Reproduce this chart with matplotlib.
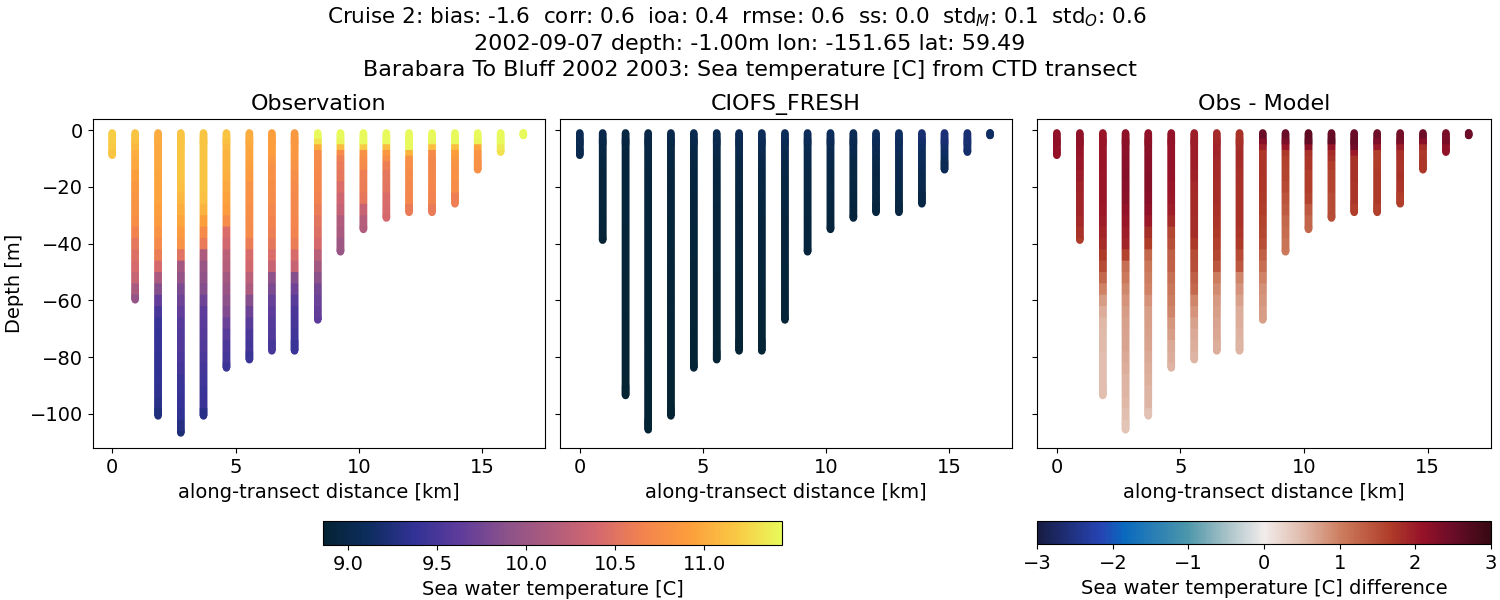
import matplotlib
matplotlib.use("Agg")
import matplotlib.pyplot as plt
from matplotlib.colors import LinearSegmentedColormap, Normalize
from matplotlib.cm import ScalarMappable

# colormaps picked off the colorbars (cmocean thermal / balance look)
thermal = LinearSegmentedColormap.from_list("thermal", [
    (0.0, (4/255, 35/255, 51/255)), (0.1, (13/255, 45/255, 95/255)), (0.2, (50/255, 50/255, 150/255)),
    (0.3, (95/255, 60/255, 155/255)), (0.4, (140/255, 82/255, 138/255)), (0.5, (176/255, 92/255, 125/255)),
    (0.6, (213/255, 105/255, 110/255)), (0.7, (243/255, 132/255, 78/255)), (0.8, (253/255, 158/255, 60/255)),
    (0.9, (250/255, 200/255, 68/255)), (1.0, (232/255, 250/255, 91/255))])
balance = LinearSegmentedColormap.from_list("balance", [
    (0.0, (24/255, 28/255, 67/255)), (0.14, (38/255, 68/255, 180/255)), (0.19, (10/255, 105/255, 190/255)),
    (0.33, (75/255, 150/255, 170/255)), (0.42, (170/255, 195/255, 200/255)), (0.5, (241/255, 236/255, 235/255)),
    (0.58, (225/255, 190/255, 175/255)), (0.67, (205/255, 125/255, 95/255)), (0.78, (175/255, 60/255, 40/255)),
    (0.85, (150/255, 18/255, 40/255)), (0.92, (105/255, 12/255, 40/255)), (1.0, (55/255, 9/255, 18/255))])

distance = [0.0, 0.93, 1.86, 2.78, 3.70, 4.63, 5.56, 6.47, 7.39, 8.33,
            9.25, 10.18, 11.11, 12.03, 12.96, 13.89, 14.81, 15.74, 16.66]
obs_bottom = [8.9, 59.8, 100.7, 106.7, 100.7, 83.8, 80.9, 77.8, 77.8, 66.9,
              42.9, 35.0, 31.0, 29.0, 29.0, 26.0, 14.0, 7.8, 1.9]
model_bottom = [8.9, 38.8, 93.5, 105.6, 100.7, 83.8, 80.9, 77.8, 77.8, 66.9,
                42.9, 35.0, 31.0, 29.0, 29.0, 26.0, 14.0, 7.8, 1.9]

# depth [m] where each layer of the profiles below starts
layer_top = [1, 3, 5, 7, 9, 11, 14, 18, 22, 26, 30, 34, 38, 42, 46, 50, 54, 58, 62, 66,
             70, 74, 78, 82, 86, 90, 94, 98, 102, 106]

obs_temp = [
    [11.2, 11.2, 11.18, 11.15],
    [11.15, 11.12, 11.08, 11.02, 11.0, 10.98, 10.92, 10.85, 10.82, 10.8, 10.76, 10.65, 10.55, 10.48, 10.4, 10.3, 10.1, 9.95],
    [11.0, 11.0, 10.98, 10.98, 10.98, 10.98, 10.96, 10.95, 10.95, 10.92, 10.88, 10.8, 10.72, 10.6, 10.4, 10.1, 9.85, 9.65, 9.5, 9.4, 9.38, 9.38, 9.36, 9.35, 9.35, 9.34, 9.3, 9.25],
    [11.15, 11.15, 11.15, 11.15, 11.15, 11.15, 11.15, 11.12, 11.08, 11.02, 10.96, 10.88, 10.8, 10.5, 10.05, 9.95, 9.8, 9.72, 9.65, 9.58, 9.55, 9.55, 9.52, 9.48, 9.42, 9.4, 9.38, 9.35, 9.28, 9.22],
    [11.15, 11.15, 11.15, 11.15, 11.15, 11.15, 11.15, 11.15, 11.12, 11.05, 10.92, 10.72, 10.58, 10.12, 9.98, 9.92, 9.85, 9.72, 9.62, 9.6, 9.58, 9.55, 9.52, 9.48, 9.45, 9.42, 9.42, 9.3],
    [11.15, 11.12, 11.08, 11.05, 11.05, 11.05, 11.02, 10.98, 10.94, 10.9, 10.74, 10.45, 10.38, 10.22, 10.18, 10.05, 9.98, 9.9, 9.82, 9.7, 9.6, 9.52, 9.48, 9.42],
    [11.0, 11.0, 10.98, 10.96, 10.95, 10.92, 10.88, 10.8, 10.78, 10.76, 10.74, 10.72, 10.6, 10.42, 10.38, 10.22, 10.12, 9.85, 9.72, 9.6, 9.52, 9.48, 9.42],
    [10.92, 10.92, 10.92, 10.9, 10.86, 10.8, 10.78, 10.76, 10.74, 10.7, 10.66, 10.62, 10.55, 10.45, 10.3, 9.9, 9.8, 9.68, 9.62, 9.58, 9.55, 9.5],
    [10.85, 10.85, 10.85, 10.85, 10.84, 10.8, 10.76, 10.72, 10.7, 10.7, 10.68, 10.66, 10.6, 10.42, 10.3, 9.85, 9.72, 9.6, 9.52, 9.5, 9.46, 9.42],
    [11.6, 11.3, 11.0, 10.75, 10.74, 10.72, 10.7, 10.68, 10.65, 10.6, 10.52, 10.48, 10.4, 10.2, 10.05, 9.88, 9.75, 9.7, 9.66, 9.62],
    [11.6, 11.4, 11.1, 10.72, 10.62, 10.58, 10.55, 10.45, 10.35, 10.28, 10.15, 10.1, 10.02, 9.98],
    [11.7, 11.6, 11.2, 10.8, 10.75, 10.72, 10.62, 10.6, 10.55, 10.3, 10.18, 10.15],
    [11.6, 11.6, 11.1, 10.85, 10.75, 10.62, 10.55, 10.52, 10.45, 10.42, 10.4],
    [11.6, 11.6, 11.5, 11.05, 10.78, 10.75, 10.72, 10.7, 10.68, 10.58],
    [11.6, 11.4, 11.1, 10.72, 10.7, 10.7, 10.7, 10.68, 10.66, 10.58],
    [11.6, 11.5, 11.1, 10.9, 10.85, 10.8, 10.78, 10.75, 10.62],
    [11.7, 11.4, 10.95, 10.82, 10.8, 10.78],
    [11.55, 11.55, 11.35, 11.3],
    [11.6],
]

model_temp = [
    [9.05, 9.04, 9.03, 9.02],
    [9.0, 8.98, 8.96, 8.95, 8.94, 8.93, 8.92, 8.92, 8.91, 8.9, 8.9, 8.89, 8.88],
    [8.95, 8.94, 8.93, 8.92, 8.92, 8.91, 8.9, 8.9, 8.9, 8.9, 8.9, 8.89, 8.89, 8.89, 8.89, 8.88, 8.88, 8.88, 8.88, 8.87, 8.87, 8.87, 8.87, 8.87, 8.86, 8.86],
    [8.98, 8.97, 8.96, 8.95, 8.94, 8.93, 8.92, 8.91, 8.9, 8.9, 8.9, 8.9, 8.89, 8.89, 8.89, 8.89, 8.88, 8.88, 8.88, 8.87, 8.87, 8.87, 8.87, 8.87, 8.86, 8.86, 8.86, 8.86, 8.86],
    [9.0, 8.98, 8.96, 8.95, 8.94, 8.93, 8.92, 8.92, 8.91, 8.91, 8.9, 8.9, 8.9, 8.89, 8.89, 8.89, 8.88, 8.88, 8.88, 8.87, 8.87, 8.87, 8.87, 8.87, 8.86, 8.86, 8.86, 8.86],
    [9.02, 9.0, 8.98, 8.96, 8.95, 8.94, 8.93, 8.93, 8.92, 8.92, 8.91, 8.9, 8.9, 8.9, 8.89, 8.89, 8.89, 8.88, 8.88, 8.88, 8.87, 8.87, 8.87, 8.87],
    [9.03, 9.01, 9.0, 8.98, 8.96, 8.95, 8.94, 8.93, 8.93, 8.92, 8.92, 8.91, 8.91, 8.9, 8.9, 8.89, 8.89, 8.89, 8.88, 8.88, 8.88, 8.87, 8.87],
    [9.05, 9.03, 9.01, 9.0, 8.98, 8.96, 8.95, 8.94, 8.93, 8.92, 8.92, 8.91, 8.91, 8.9, 8.9, 8.89, 8.89, 8.89, 8.88, 8.88, 8.88, 8.87],
    [9.08, 9.06, 9.04, 9.02, 9.0, 8.98, 8.96, 8.95, 8.94, 8.93, 8.92, 8.92, 8.91, 8.91, 8.9, 8.9, 8.89, 8.89, 8.89, 8.88, 8.88, 8.88],
    [9.08, 9.06, 9.04, 9.02, 9.0, 8.98, 8.96, 8.95, 8.94, 8.93, 8.92, 8.92, 8.91, 8.91, 8.9, 8.9, 8.89, 8.89, 8.89, 8.88],
    [9.08, 9.06, 9.04, 9.02, 9.0, 8.98, 8.96, 8.95, 8.94, 8.93, 8.92, 8.92, 8.91, 8.91],
    [9.08, 9.06, 9.04, 9.02, 9.0, 8.98, 8.96, 8.95, 8.94, 8.93, 8.92, 8.92],
    [9.05, 9.04, 9.02, 9.0, 8.98, 8.96, 8.95, 8.94, 8.93, 8.92, 8.92],
    [9.08, 9.06, 9.04, 9.02, 9.0, 8.98, 8.96, 8.95, 8.94, 8.93],
    [9.12, 9.1, 9.08, 9.06, 9.04, 9.02, 9.0, 8.98, 8.96, 8.95],
    [9.2, 9.16, 9.12, 9.1, 9.08, 9.05, 9.02, 9.0, 8.97],
    [9.22, 9.2, 9.16, 9.12, 9.08, 9.05],
    [9.2, 9.2, 9.18, 9.16],
    [9.12],
]

diff_temp = [[o - m for o, m in zip(obs, mod)] for obs, mod in zip(obs_temp, model_temp)]

title_lines = ["Cruise 2: bias: -1.6  corr: 0.6  ioa: 0.4  rmse: 0.6  ss: 0.0  std$_M$: 0.1  std$_O$: 0.6",
               "2002-09-07 depth: -1.00m lon: -151.65 lat: 59.49",
               "Barabara To Bluff 2002 2003: Sea temperature [C] from CTD transect"]

temp_norm = Normalize(8.854, 11.44)
diff_norm = Normalize(-3, 3)


def draw_panel(ax, bottoms, profiles, cmap, norm):
    for x, bottom, values in zip(distance, bottoms, profiles):
        n = len(values)
        ymin = [-t for t in layer_top[:n]]
        # every layer runs on under the next one, so no seams show between them
        ymax = [-(layer_top[k + 2] if k + 2 < n else bottom) for k in range(n)]
        colors = cmap(norm(values))
        ax.vlines([x, x], [ymin[0], ymin[-1]], [ymax[0], -bottom], colors=colors[[0, -1]],
                  linewidth=5.4, capstyle="round", snap=False)
        ax.vlines([x] * n, ymin, ymax, colors=colors, linewidth=5.4, capstyle="butt", snap=False)


fig = plt.figure(figsize=(15, 6), dpi=100)

W, H = 1500.0, 600.0
def px_axes(x0, x1, y0, y1):
    return fig.add_axes([x0 / W, 1 - y1 / H, (x1 - x0) / W, (y1 - y0) / H])


ax1 = px_axes(92.7, 545.3, 118.7, 448.3)
ax2 = px_axes(560.3, 1012.0, 118.7, 448.3)
ax3 = px_axes(1037.3, 1490.7, 118.7, 448.3)

draw_panel(ax1, obs_bottom, obs_temp, thermal, temp_norm)
draw_panel(ax2, model_bottom, model_temp, thermal, temp_norm)
draw_panel(ax3, model_bottom, diff_temp, balance, diff_norm)

for ax, name in zip([ax1, ax2, ax3], ["Observation", "CIOFS_FRESH", "Obs - Model"]):
    ax.set_title(name, fontsize=16, pad=6.5)
    ax.set_xlim(-0.79, 17.55)
    ax.set_ylim(-112.1, 4.0)
    ax.set_xticks([0, 5, 10, 15])
    ax.set_yticks([0, -20, -40, -60, -80, -100])
    ax.tick_params(labelsize=14)
    ax.set_xlabel("along-transect distance [km]", fontsize=14)
ax1.set_ylabel("Depth [m]", fontsize=14)
ax2.tick_params(labelleft=False)
ax3.tick_params(labelleft=False)

cax1 = px_axes(322.5, 782.5, 521.3, 545.3)
cb1 = fig.colorbar(ScalarMappable(temp_norm, thermal), cax=cax1, orientation="horizontal")
cb1.set_ticks([9.0, 9.5, 10.0, 10.5, 11.0])
cb1.set_label("Sea water temperature [C]", fontsize=14)
cb1.ax.tick_params(labelsize=14)

cax2 = px_axes(1037.3, 1490.7, 521.3, 544.3)
cb2 = fig.colorbar(ScalarMappable(diff_norm, balance), cax=cax2, orientation="horizontal")
cb2.set_ticks([-3, -2, -1, 0, 1, 2, 3])
cb2.set_label("Sea water temperature [C] difference", fontsize=14)
cb2.ax.tick_params(labelsize=14)

# title lines one by one, the first is a touch narrower in the reference
fig.text(737 / W, 1 - 17 / H, title_lines[0], fontsize=15.45, ha="center", va="center")
fig.text(0.5, 1 - 44 / H, title_lines[1], fontsize=16, ha="center", va="center")
fig.text(0.5, 1 - 70 / H, title_lines[2], fontsize=16, ha="center", va="center")

fig.savefig("out.png", dpi=100)
